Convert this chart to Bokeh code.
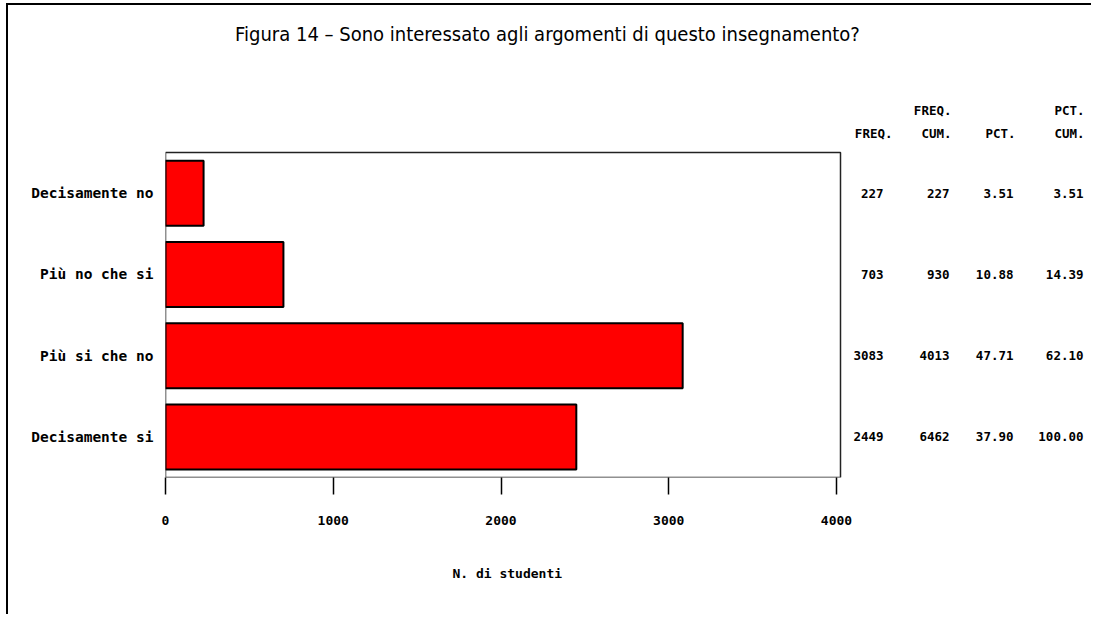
from bokeh.plotting import figure
from bokeh.models import Range1d, FixedTicker, Title
from bokeh.core.properties import value
from bokeh.embed import file_html
from bokeh.resources import INLINE

# ---- data ----
categories = ["Decisamente no", "Più no che si", "Più si che no", "Decisamente si"]
freq = [227, 703, 3083, 2449]
freq_cum = [227, 930, 4013, 6462]
pct = ["3.51", "10.88", "47.71", "37.90"]
pct_cum = ["3.51", "14.39", "62.10", "100.00"]
x_ticks = [0, 1000, 2000, 3000, 4000]
title_text = "Figura 14 \u2013 Sono interessato agli argomenti di questo insegnamento?"
x_label = "N. di studenti"
head_row1 = ["", "FREQ.", "", "PCT."]
head_row2 = ["FREQ.", "CUM.", "PCT.", "CUM."]

MONO = "DejaVu Sans Mono"
TITLE_FONT = "DejaVu Sans Condensed"

# ---- layout constants (canvas px) ----
W, H = 1085, 611
FL = 157            # chart left
BOX_BOTTOM = 472    # chart bottom
ROW_PX = 81.25      # px per category row
PX_PER_UNIT = (828 - FL) / 4000.0
BOX_RIGHT_DATA = (832 - FL) / PX_PER_UNIT
X_END = (W - FL) / PX_PER_UNIT
Y_END = BOX_BOTTOM / ROW_PX
n = len(categories)

p = figure(width=W, height=H, output_backend="svg", toolbar_location=None,
           x_range=Range1d(0, X_END), y_range=Range1d(0, Y_END),
           min_border_left=FL, min_border_right=0,
           min_border_top=0, min_border_bottom=H - BOX_BOTTOM)
p.styles = {"margin-left": "6px", "margin-top": "3px",
            "border-left": "2px solid black", "border-top": "2px solid black"}
p.grid.visible = False
p.outline_line_color = None
p.background_fill_color = "white"
p.border_fill_color = "white"

# categories drawn top to bottom
ypos = [n - i - 0.5 for i in range(n)]

# chart box
p.quad(left=[0], right=[BOX_RIGHT_DATA], bottom=[0], top=[n],
       fill_color=None, line_color="#222222", line_width=1.5)

p.hbar(y=ypos, right=freq, left=0, height=0.8,
       fill_color="#ff0000", line_color="black", line_width=2)

# x axis
xa = p.xaxis[0]
xa.ticker = FixedTicker(ticks=x_ticks)
xa.axis_line_color = None
xa.major_tick_out = 17
xa.major_tick_in = 0
xa.minor_tick_out = 0
xa.minor_tick_in = 0
xa.major_tick_line_color = "black"
xa.major_tick_line_width = 1.5
xa.major_label_text_font = MONO
xa.major_label_text_font_size = "13px"
xa.major_label_text_font_style = "bold"
xa.major_label_text_color = "black"
xa.major_label_standoff = 21

# x axis title, centred under the chart box
p.add_layout(Title(text=x_label, align="left", offset=287, standoff=72,
                   text_font=MONO, text_font_size="13px", text_font_style="bold",
                   text_color="black"), "below")

# y axis: category names
ya = p.yaxis[0]
ya.ticker = FixedTicker(ticks=ypos)
ya.major_label_overrides = {yv: c for yv, c in zip(ypos, categories)}
ya.axis_line_color = None
ya.major_tick_out = 0
ya.major_tick_in = 0
ya.minor_tick_out = 0
ya.minor_tick_in = 0
ya.major_label_text_font = MONO
ya.major_label_text_font_size = "14.5px"
ya.major_label_text_font_style = "bold"
ya.major_label_text_color = "black"
ya.major_label_standoff = 12

# title
p.text(x=[0], y=[n], text=[title_text], x_offset=539 - FL, y_offset=28 - 147,
       text_font=value(TITLE_FONT), text_font_size="20px",
       text_align="center", text_baseline="middle", text_color="black")

# table on the right
col_cells = [[str(v) for v in freq], [str(v) for v in freq_cum], pct, pct_cum]
col_off = [43, 109, 173, 243]
head_off = [52, 111, 175, 244]
for cells, off, hoff, h1, h2 in zip(col_cells, col_off, head_off, head_row1, head_row2):
    p.text(x=[BOX_RIGHT_DATA] * n, y=ypos, text=cells, x_offset=off,
           text_font=value(MONO), text_font_size="12.5px", text_font_style="bold",
           text_align="right", text_baseline="middle", text_color="black")
    for txt, dy in ((h1, 105 - 147), (h2, 128 - 147)):
        if txt:
            p.text(x=[BOX_RIGHT_DATA], y=[n], text=[txt], x_offset=hoff, y_offset=dy,
                   text_font=value(MONO), text_font_size="12.5px", text_font_style="bold",
                   text_align="right", text_baseline="middle", text_color="black")

open("out.html", "w").write(file_html(p, INLINE))
